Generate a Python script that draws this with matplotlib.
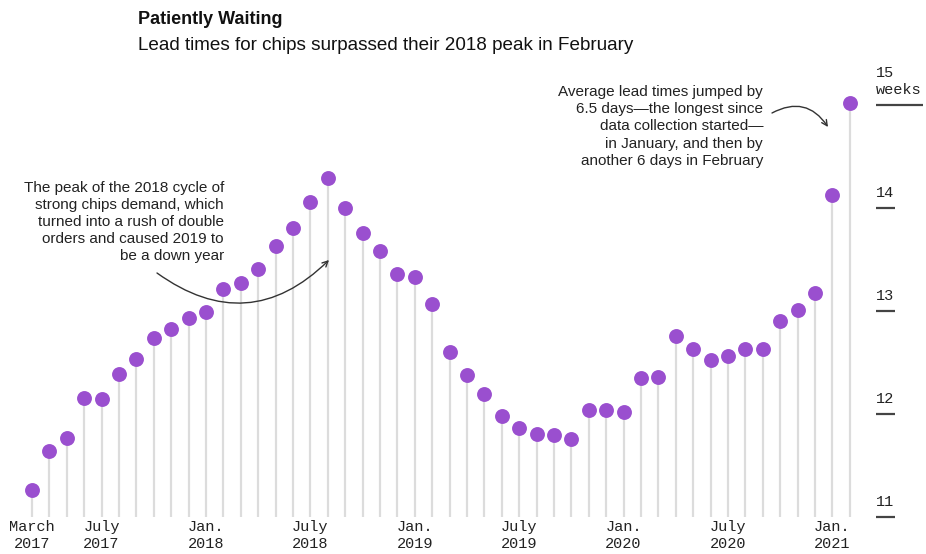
import matplotlib
matplotlib.use("Agg")
import matplotlib.pyplot as plt

# ---- data ----
values = [11.26, 11.64, 11.77, 12.16, 12.15, 12.39, 12.53, 12.74, 12.83, 12.93,
          12.99, 13.21, 13.27, 13.41, 13.63, 13.81, 14.06, 14.29, 14.00, 13.76,
          13.58, 13.36, 13.33, 13.07, 12.60, 12.38, 12.19, 11.98, 11.86, 11.81,
          11.80, 11.76, 12.04, 12.04, 12.02, 12.35, 12.36, 12.76, 12.63, 12.52,
          12.56, 12.63, 12.63, 12.90, 13.01, 13.17, 14.13, 15.02]   # Mar 2017 .. Feb 2021
months = list(range(len(values)))
xtick_pos = [0, 4, 10, 16, 22, 28, 34, 40, 46]
xtick_labels = ["March\n2017", "July\n2017", "Jan.\n2018", "July\n2018", "Jan.\n2019",
                "July\n2019", "Jan.\n2020", "July\n2020", "Jan.\n2021"]
ytick_vals = [11, 12, 13, 14, 15]
ytick_labels = ["11", "12", "13", "14", "15\nweeks"]

title = "Patiently Waiting"
subtitle = "Lead times for chips surpassed their 2018 peak in February"
note_left = ("The peak of the 2018 cycle of\nstrong chips demand, which\n"
             "turned into a rush of double\norders and caused 2019 to\nbe a down year")
note_right = ("Average lead times jumped by\n6.5 days\u2014the longest since\n"
              "data collection started\u2014\nin January, and then by\nanother 6 days in February")

# ---- style ----
purple = "#9a4fcf"
stem_c = "#dcdcdc"
txt_c = "#222222"
mono = "Liberation Mono"
sans = "Liberation Sans"

W, H = 926, 554
fig = plt.figure(figsize=(W / 100, H / 100), dpi=100)
fig.patch.set_facecolor("white")

# pixel mapping: x_px = 32 + i*17.4 ; y_px = 517 - (v-11)*103
px_per_m = 17.4
px_per_w = 103.0
left_px, right_px = 10, 870
top_px, bot_px = 60, 517
ax = fig.add_axes([left_px / W, (H - bot_px) / H, (right_px - left_px) / W, (bot_px - top_px) / H])
ax.set_xlim((left_px - 32) / px_per_m, (right_px - 32) / px_per_m)
ax.set_ylim(11, 11 + (bot_px - top_px) / px_per_w)
for s in ax.spines.values():
    s.set_visible(False)
ax.set_yticks([])

# stems and dots
ax.vlines(months, 11, values, color=stem_c, lw=1.6, zorder=1)
ax.scatter(months, values, s=115, color=purple, zorder=3, linewidths=0)

# x ticks
ax.set_xticks(xtick_pos)
ax.set_xticklabels(xtick_labels, fontfamily=mono, fontsize=11, color=txt_c, linespacing=1.3)
ax.tick_params(axis="x", length=0, pad=2)

# right-side y labels with underline
x_to = lambda px: (px - 32) / px_per_m
for v, lab in zip(ytick_vals, ytick_labels):
    ax.text(x_to(876), v + 8 / px_per_w, lab, fontfamily=mono, fontsize=11, color=txt_c,
            ha="left", va="bottom", linespacing=1.25, clip_on=False)
    xend = 923 if v == 15 else 895
    ax.plot([x_to(876), x_to(xend)], [v, v], color="#444444", lw=1.6, clip_on=False,
            solid_capstyle="butt")

# annotations
y_to = lambda py: 11 + (517 - py) / px_per_w
ax.text(x_to(224), y_to(222), note_left, ha="right", va="center", fontfamily=sans,
        fontsize=11, color=txt_c, linespacing=1.28)
ax.annotate("", xy=(x_to(329), y_to(260)), xytext=(x_to(157), y_to(273)),
            arrowprops=dict(arrowstyle="->", color="#333333", lw=1.0,
                            connectionstyle="arc3,rad=0.42", shrinkA=0, shrinkB=0,
                            mutation_scale=10))
ax.text(x_to(763), y_to(126.5), note_right, ha="right", va="center", fontfamily=sans,
        fontsize=11, color=txt_c, linespacing=1.28)
ax.annotate("", xy=(x_to(828), y_to(127)), xytext=(x_to(772), y_to(113)),
            arrowprops=dict(arrowstyle="->", color="#333333", lw=1.0,
                            connectionstyle="arc3,rad=-0.45", shrinkA=0, shrinkB=0,
                            mutation_scale=10))

# titles
fig.text(138 / W, 1 - 20 / H, title, fontfamily=sans, fontweight="bold", fontsize=13,
         color="#111111", ha="left", va="center")
fig.text(138 / W, 1 - 45 / H, subtitle, fontfamily=sans, fontsize=13.6,
         color="#111111", ha="left", va="center")

fig.savefig("out.png", dpi=100, facecolor="white")
